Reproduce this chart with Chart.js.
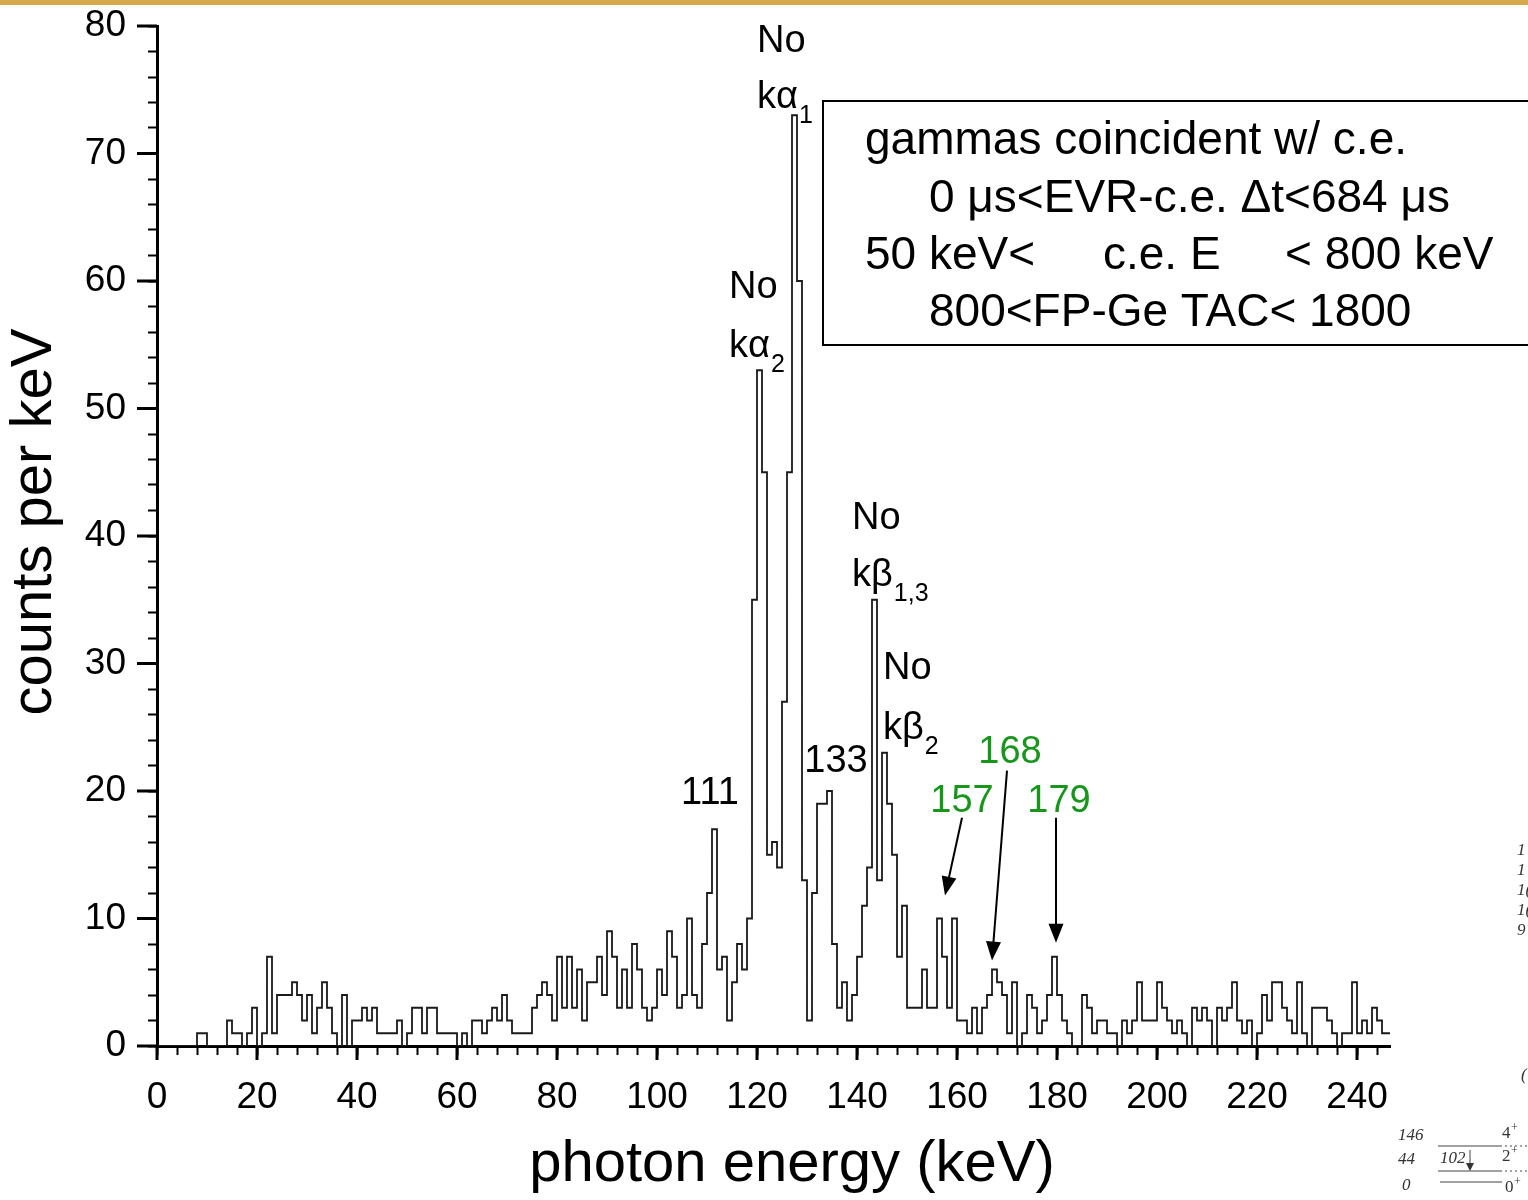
<!DOCTYPE html>
<html>
<head>
<meta charset="utf-8">
<title>photon energy spectrum</title>
<script src="https://cdn.jsdelivr.net/npm/chart.js@4.4.0/dist/chart.umd.min.js"></script>
<style>
  html, body { margin: 0; padding: 0; background: #fff; }
  #spectrum { display: block; }
</style>
</head>
<body>
<canvas id="spectrum" width="1528" height="1200"></canvas>
<script>
// counts per 1 keV bin, bin k covers [k, k+1) keV
const counts = [
  0, 0, 0, 0, 0, 0, 0, 0, 1, 1,        // 0-9
  0, 0, 0, 0, 2, 1, 1, 0, 1, 3,        // 10-19
  0, 1, 7, 1, 4, 4, 4, 5, 4, 2,        // 20-29
  4, 1, 3, 5, 3, 1, 0, 4, 0, 2,        // 30-39
  2, 3, 2, 3, 1, 1, 1, 1, 2, 0,        // 40-49
  1, 3, 3, 1, 3, 3, 1, 1, 1, 1,        // 50-59
  0, 1, 0, 2, 2, 1, 2, 3, 2, 4,        // 60-69
  2, 1, 1, 1, 1, 3, 4, 5, 4, 2,        // 70-79
  7, 3, 7, 3, 6, 2, 5, 5, 7, 4,        // 80-89
  9, 7, 3, 6, 3, 8, 6, 3, 2, 3,        // 90-99
  6, 4, 9, 7, 3, 4, 10, 4, 3, 8,       // 100-109
  12, 17, 6, 7, 2, 5, 8, 6, 10, 35,    // 110-119
  53, 45, 15, 16, 14, 27, 45, 73, 60, 13, // 120-129
  2, 12, 19, 19, 20, 8, 3, 5, 2, 4,    // 130-139
  7, 11, 14, 35, 13, 23, 19, 15, 7, 11, // 140-149
  3, 3, 3, 6, 3, 3, 10, 7, 3, 10,      // 150-159
  2, 2, 1, 3, 1, 3, 4, 6, 5, 4,        // 160-169
  1, 5, 0, 1, 4, 3, 1, 2, 4, 7,        // 170-179
  4, 2, 1, 0, 0, 4, 3, 1, 2, 2,        // 180-189
  1, 1, 0, 2, 1, 2, 5, 2, 2, 2,        // 190-199
  5, 3, 2, 1, 2, 1, 0, 3, 2, 3,        // 200-209
  2, 0, 3, 2, 3, 5, 2, 1, 2, 0,        // 210-219
  1, 4, 2, 5, 5, 3, 2, 1, 5, 1,        // 220-229
  0, 3, 3, 3, 2, 1, 0, 1, 1, 5,        // 230-239
  1, 2, 1, 3, 2, 1, 1                  // 240-246
];

const xrayNames = ['No', 'No', 'No', 'No'];
const xrayLines = ['kα', 'kα', 'kβ', 'kβ'];
const xraySubs = ['1', '2', '1,3', '2'];
const blackPeaks = ['111', '133'];
const greenPeaks = ['157', '168', '179'];
const gateText = [
  'gammas coincident w/ c.e.',
  '0 μs<EVR-c.e. Δt<684 μs',
  ['50 keV<', 'c.e. E', '< 800 keV'],
  '800<FP-Ge TAC< 1800'
];
const xTitle = 'photon energy (keV)';
const yTitle = 'counts per keV';

const FONT = "'Liberation Sans', Arial, Helvetica, sans-serif";
const GREEN = '#17961b';

// step line: each point holds its bin's count up to the next edge
const points = counts.map((c, k) => ({ x: k, y: c }));
points.push({ x: counts.length, y: counts[counts.length - 1] });

function label(c, str, px, py, size, align, color, style) {
  c.font = (style || '') + ' ' + size + 'px ' + FONT;
  c.fillStyle = color || '#000';
  c.textAlign = align || 'left';
  c.textBaseline = 'middle';
  c.fillText(str, px, py);
}

function arrow(c, x0, y0, x1, y1) {
  const ang = Math.atan2(y1 - y0, x1 - x0);
  const len = 19, half = 7.5;
  c.strokeStyle = '#000';
  c.lineWidth = 2;
  c.beginPath();
  c.moveTo(x0, y0);
  c.lineTo(x1 - Math.cos(ang) * len * 0.8, y1 - Math.sin(ang) * len * 0.8);
  c.stroke();
  c.fillStyle = '#000';
  c.beginPath();
  c.moveTo(x1, y1);
  c.lineTo(x1 - Math.cos(ang) * len + Math.sin(ang) * half, y1 - Math.sin(ang) * len - Math.cos(ang) * half);
  c.lineTo(x1 - Math.cos(ang) * len - Math.sin(ang) * half, y1 - Math.sin(ang) * len + Math.cos(ang) * half);
  c.closePath();
  c.fill();
}

const decorations = {
  id: 'decorations',
  beforeDraw(chart) {
    const c = chart.ctx;
    c.save();
    c.fillStyle = '#fff';
    c.fillRect(0, 0, chart.width, chart.height);
    c.restore();
  },
  afterDraw(chart) {
    const c = chart.ctx;
    const { x, y } = chart.scales;
    const area = chart.chartArea;
    const px = v => x.getPixelForValue(v);
    const py = v => y.getPixelForValue(v);
    c.save();

    // gold rule along the top edge
    c.fillStyle = '#d6a84c';
    c.fillRect(0, 0, chart.width, 5);

    // longer major ticks
    c.strokeStyle = '#000';
    c.lineWidth = 3;
    c.beginPath();
    for (let v = 0; v <= 80; v += 10) {
      c.moveTo(area.left - 20, py(v));
      c.lineTo(area.left, py(v));
    }
    for (let v = 0; v <= 240; v += 20) {
      c.moveTo(px(v), area.bottom);
      c.lineTo(px(v), area.bottom + 14);
    }
    c.stroke();

    // axis titles
    label(c, xTitle, 792, 1165, 58, 'center');
    c.save();
    c.translate(35, 522);
    c.rotate(-Math.PI / 2);
    label(c, yTitle, 0, 0, 58, 'center');
    c.restore();

    // x-ray line names
    const xray = [
      { e: 120, no: 78.8, k: 74.4 },
      { e: 114.4, no: 59.5, k: 54.9 },
      { e: 139, no: 41.4, k: 36.9 },
      { e: 145.2, no: 29.6, k: 24.9 }
    ];
    xray.forEach((p, i) => {
      label(c, xrayNames[i], px(p.e), py(p.no), 38);
      label(c, xrayLines[i], px(p.e), py(p.k), 38);
      c.font = '38px ' + FONT;
      const w = c.measureText(xrayLines[i]).width;
      label(c, xraySubs[i], px(p.e) + w + 1, py(p.k) + 19, 25);
    });

    // peak energies
    const blackPos = [[110.6, 19.8], [135.8, 22.3]];
    blackPeaks.forEach((t, i) => label(c, t, px(blackPos[i][0]), py(blackPos[i][1]), 38, 'center'));
    const greenPos = [[161, 19.2], [170.6, 23], [180.4, 19.2]];
    greenPeaks.forEach((t, i) => label(c, t, px(greenPos[i][0]), py(greenPos[i][1]), 38, 'center', GREEN));

    // arrows to the gated lines
    const arrows = [
      [161, 17.9, 157.6, 11.8],
      [170, 21.6, 167, 6.7],
      [179.8, 17.9, 179.8, 8.1]
    ];
    arrows.forEach(a => arrow(c, px(a[0]), py(a[1]), px(a[2]), py(a[3])));

    // gate conditions box
    c.strokeStyle = '#000';
    c.lineWidth = 2;
    c.beginPath();
    c.moveTo(chart.width, 101);
    c.lineTo(823, 101);
    c.lineTo(823, 345);
    c.lineTo(chart.width, 345);
    c.stroke();
    label(c, gateText[0], 865, 141, 46);
    label(c, gateText[1], 929, 199, 46);
    label(c, gateText[2][0], 865, 256, 46);
    label(c, gateText[2][1], 1103, 256, 46);
    label(c, gateText[2][2], 1285, 256, 46);
    label(c, gateText[3], 929, 313, 46);

    // edge of the neighbouring level scheme
    const serif = "'Liberation Serif', 'DejaVu Serif', serif";
    c.fillStyle = '#333';
    c.textBaseline = 'middle';
    c.textAlign = 'left';
    c.font = 'italic 17px ' + serif;
    ['1', '1', '1(', '1(', '9'].forEach((t, i) => c.fillText(t, 1517, 851 + i * 19.8));
    c.fillText('(', 1521, 1076);
    c.fillText('146', 1398, 1136);
    c.fillText('44', 1398, 1160);
    c.fillText('0', 1402, 1186);
    c.fillText('102', 1440, 1159);
    c.font = '17px ' + serif;
    c.fillText('4', 1502, 1134);
    c.fillText('2', 1502, 1157);
    c.fillText('0', 1505, 1188);
    c.font = '12px ' + serif;
    c.fillText('+', 1511, 1128);
    c.fillText('+', 1511, 1151);
    c.fillText('+', 1514, 1182);
    c.strokeStyle = '#444';
    c.lineWidth = 1;
    c.beginPath();
    c.moveTo(1438, 1146); c.lineTo(1500, 1146);
    c.moveTo(1438, 1171); c.lineTo(1500, 1171);
    c.moveTo(1440, 1182); c.lineTo(1502, 1182);
    c.moveTo(1470, 1150); c.lineTo(1470, 1168);
    c.stroke();
    c.setLineDash([2, 3]);
    c.beginPath();
    c.moveTo(1500, 1146); c.lineTo(1528, 1146);
    c.moveTo(1500, 1171); c.lineTo(1528, 1171);
    c.stroke();
    c.setLineDash([]);
    c.fillStyle = '#333';
    c.beginPath();
    c.moveTo(1470, 1171); c.lineTo(1466, 1163); c.lineTo(1474, 1163);
    c.closePath();
    c.fill();

    c.restore();
  }
};

new Chart(document.getElementById('spectrum'), {
  type: 'line',
  data: {
    datasets: [{
      data: points,
      stepped: true,
      borderColor: '#1a1a1a',
      borderWidth: 1.8,
      pointRadius: 0,
      fill: false
    }]
  },
  options: {
    responsive: false,
    animation: false,
    events: [],
    layout: { padding: { top: 26, right: 138, bottom: 0, left: 0 } },
    plugins: {
      legend: { display: false },
      tooltip: { enabled: false }
    },
    scales: {
      x: {
        type: 'linear',
        min: 0,
        max: 246.6,
        afterFit: s => {
          s.height = 154;
          s.paddingLeft = 0;
          s.paddingRight = 0;
        },
        border: { display: true, color: '#000', width: 3 },
        grid: { drawOnChartArea: false, drawTicks: true, tickLength: 9, tickColor: '#000', tickWidth: 2 },
        ticks: {
          stepSize: 4,
          autoSkip: false,
          maxRotation: 0,
          includeBounds: false,
          padding: 21,
          color: '#000',
          font: { family: FONT, size: 37 },
          callback: v => (v % 20 === 0 ? v : '')
        }
      },
      y: {
        min: 0,
        max: 80,
        afterFit: s => {
          s.width = 157;
          s.paddingTop = 0;
          s.paddingBottom = 0;
        },
        border: { display: true, color: '#000', width: 3 },
        grid: { drawOnChartArea: false, drawTicks: true, tickLength: 9, tickColor: '#000', tickWidth: 2 },
        ticks: {
          stepSize: 2,
          autoSkip: false,
          padding: 22,
          color: '#000',
          font: { family: FONT, size: 37 },
          callback: v => (v % 10 === 0 ? v : '')
        }
      }
    }
  },
  plugins: [decorations]
});
</script>
</body>
</html>
